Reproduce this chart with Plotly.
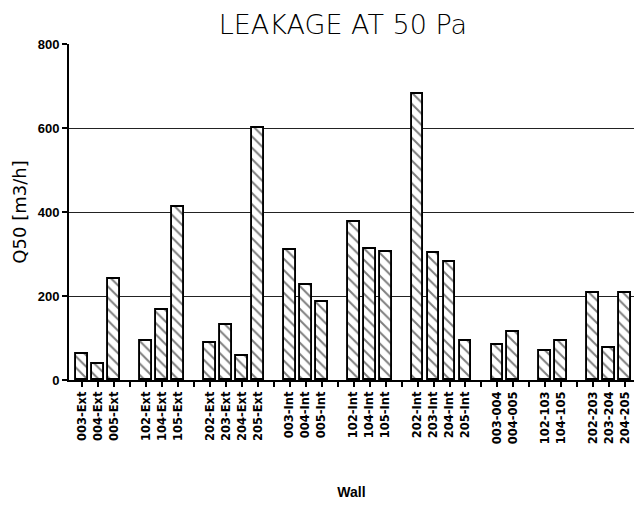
import plotly.graph_objects as go

# Slot labels ("" = empty spacer slot between groups)
labels = ["003-Ext", "004-Ext", "005-Ext", "",
          "102-Ext", "104-Ext", "105-Ext", "",
          "202-Ext", "203-Ext", "204-Ext", "205-Ext", "",
          "003-Int", "004-Int", "005-Int", "",
          "102-Int", "104-Int", "105-Int", "",
          "202-Int", "203-Int", "204-Int", "205-Int", "",
          "003-004", "004-005", "",
          "102-103", "104-105", "",
          "202-203", "203-204", "204-205"]

q50 = [62, 39, 240, None,
       94, 167, 413, None,
       89, 130, 58, 600, None,
       310, 227, 185, None,
       377, 312, 305, None,
       680, 302, 282, 92, None,
       83, 114, None,
       70, 92, None,
       208, 77, 208]

y_ticks = [0, 200, 400, 600, 800]

slots = list(range(len(labels)))

fig = go.Figure()
fig.add_trace(go.Bar(
    x=slots, y=q50, width=0.74,
    marker=dict(color="white",
                line=dict(color="black", width=1.9),
                pattern=dict(shape="\\", fgcolor="black", bgcolor="white",
                             size=8, solidity=0.25)),
    showlegend=False,
))

fig.update_layout(
    width=635, height=506,
    margin=dict(l=69, r=1, t=44, b=126),
    paper_bgcolor="white", plot_bgcolor="white",
    title=dict(text="LEAKAGE AT 50 Pa", x=0.54, xanchor="center",
               y=0.952, yanchor="middle",
               font=dict(family="DejaVu Sans", size=27, color="black", weight=300)),
    font=dict(family="Liberation Sans", color="black"),
    bargap=0,
)
fig.update_xaxes(
    range=[-0.82, 34.55], tickmode="array", tickvals=slots, ticktext=labels,
    tickangle=-90, ticks="outside", ticklen=5, tickwidth=1.5, tickcolor="black",
    tickfont=dict(family="DejaVu Sans", size=11.5, weight="bold"),
    showline=True, linecolor="black", linewidth=1.8, showgrid=False, zeroline=False,
    title=dict(text="Wall", font=dict(family="Liberation Sans", size=14, weight="bold"),
               standoff=44),
)
fig.update_yaxes(
    range=[0, 800], tickvals=y_ticks, ticks="outside", ticklen=5, tickcolor="black",
    tickwidth=1.5,
    tickfont=dict(family="Liberation Sans", size=13, weight="bold"),
    showline=True, linecolor="black", linewidth=2, mirror=False,
    showgrid=True, gridcolor="#222", gridwidth=1.4, zeroline=False,
    title=dict(text="Q50 [m3/h]", font=dict(family="DejaVu Sans", size=18),
               standoff=6),
)

fig.write_html("out.html")
